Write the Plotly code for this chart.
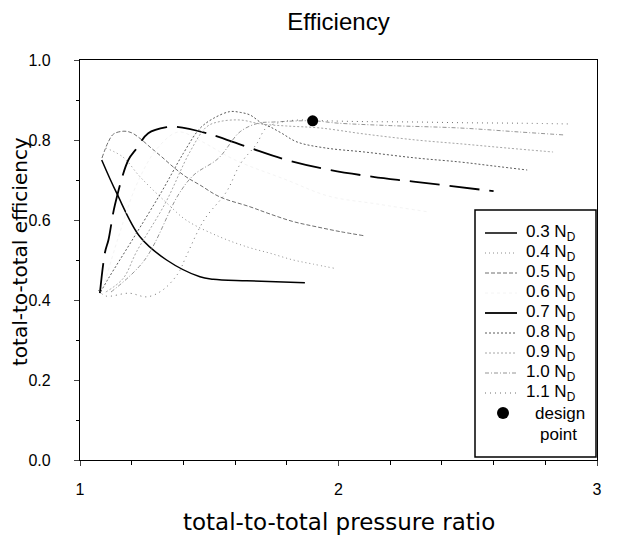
import plotly.graph_objects as go

# ---- data ----
x_03 = [1.084, 1.142, 1.232, 1.335, 1.464, 1.515, 1.645, 1.87]
y_03 = [0.75, 0.667, 0.558, 0.50, 0.458, 0.452, 0.448, 0.443]

x_04 = [1.10, 1.167, 1.226, 1.27, 1.34, 1.41, 1.54, 1.65, 1.735, 1.825, 1.90, 1.986]
y_04 = [0.78, 0.757, 0.7125, 0.683, 0.64, 0.60, 0.558, 0.532, 0.517, 0.50, 0.49, 0.479]

x_05 = [1.085, 1.11, 1.13, 1.17, 1.20, 1.232, 1.277, 1.316, 1.36, 1.41, 1.464, 1.54, 1.658, 1.735, 1.825, 1.915, 2.006, 2.096]
y_05 = [0.755, 0.796, 0.815, 0.822, 0.818, 0.804, 0.779, 0.758, 0.733, 0.708, 0.6875, 0.658, 0.633, 0.615, 0.596, 0.583, 0.571, 0.561]

x_06 = [1.09, 1.15, 1.22, 1.30, 1.38, 1.46, 1.60, 1.80, 1.96, 2.15, 2.35]
y_06 = [0.43, 0.56, 0.69, 0.78, 0.82, 0.80, 0.75, 0.70, 0.66, 0.64, 0.62]

x_07 = [1.077, 1.097, 1.11, 1.135, 1.187, 1.219, 1.264, 1.335, 1.374, 1.49, 1.645, 1.80, 1.967, 2.134, 2.29, 2.60]
y_07 = [0.417, 0.52, 0.55, 0.6375, 0.75, 0.779, 0.817, 0.832, 0.833, 0.817, 0.783, 0.75, 0.725, 0.708, 0.696, 0.672]

x_08 = [1.08, 1.11, 1.206, 1.316, 1.40, 1.464, 1.516, 1.58, 1.62, 1.658, 1.703, 1.735, 1.78, 1.84, 1.95, 2.10, 2.30, 2.47, 2.60, 2.73]
y_08 = [0.42, 0.454, 0.554, 0.671, 0.767, 0.829, 0.854, 0.871, 0.869, 0.8625, 0.842, 0.833, 0.817, 0.795, 0.78, 0.77, 0.755, 0.745, 0.735, 0.725]

x_09 = [1.10, 1.167, 1.219, 1.33, 1.425, 1.49, 1.54, 1.62, 1.70, 1.80, 1.93, 2.10, 2.30, 2.48, 2.65, 2.83]
y_09 = [0.42, 0.454, 0.521, 0.642, 0.77, 0.833, 0.846, 0.85, 0.84, 0.835, 0.83, 0.815, 0.80, 0.79, 0.78, 0.77]

x_10 = [1.12, 1.25, 1.38, 1.44, 1.535, 1.62, 1.69, 1.75, 1.90, 2.00, 2.20, 2.47, 2.70, 2.876]
y_10 = [0.42, 0.50, 0.6625, 0.7125, 0.754, 0.821, 0.842, 0.845, 0.848, 0.842, 0.836, 0.83, 0.82, 0.8125]

x_11 = [1.07, 1.10, 1.19, 1.26, 1.32, 1.38, 1.41, 1.48, 1.567, 1.62, 1.683, 1.72, 1.78, 1.85, 1.95, 2.10, 2.30, 2.50, 2.70, 2.90]
y_11 = [0.425, 0.41, 0.417, 0.408, 0.425, 0.467, 0.508, 0.60, 0.671, 0.74, 0.79, 0.83, 0.845, 0.85, 0.848, 0.846, 0.845, 0.843, 0.842, 0.840]

design_x = [1.90]
design_y = [0.848]

speed_labels = ["0.3", "0.4", "0.5", "0.6", "0.7", "0.8", "0.9", "1.0", "1.1"]
x_tickvals = [1, 2, 3]
x_ticktext = ["1", "2", "3"]
y_tickvals = [0.0, 0.2, 0.4, 0.6, 0.8, 1.0]

FONT = "Liberation Sans, Arial, sans-serif"
TITLE_FONT = "DejaVu Sans, Liberation Sans, sans-serif"

# ---- styles ----
styles = [
    dict(color="black", width=1.5, dash="solid"),
    dict(color="#8c8c8c", width=1.0, dash="1px,3px"),
    dict(color="#6e6e6e", width=1.0, dash="4px,2px"),
    dict(color="#f4f4f4", width=1.0, dash="dot"),
    dict(color="black", width=1.8, dash="30px,10px"),
    dict(color="#5a5a5a", width=1.0, dash="2px,2px"),
    dict(color="#a6a6a6", width=1.0, dash="2px,2px"),
    dict(color="#949494", width=1.0, dash="4px,2px,1px,2px"),
    dict(color="#6e6e6e", width=1.0, dash="1px,4px"),
]
xs_all = [x_03, x_04, x_05, x_06, x_07, x_08, x_09, x_10, x_11]
ys_all = [y_03, y_04, y_05, y_06, y_07, y_08, y_09, y_10, y_11]

fig = go.Figure()
for lab, xs, ys, ln in zip(speed_labels, xs_all, ys_all, styles):
    fig.add_trace(go.Scatter(x=xs, y=ys, mode="lines", name=lab + " N<sub>D</sub>",
                             line=dict(shape="spline", **ln), showlegend=False))

fig.add_trace(go.Scatter(x=design_x, y=design_y, mode="markers", name="design point",
                         marker=dict(color="black", size=11), showlegend=False))

# ---- geometry: the page body adds an 8px offset, so the figure is 8px smaller ----
W, H = 609, 532
L, T = 72, 52           # plot area at screen x 80..597, y 60..460
PW, PH = 517, 400
R, B = W - L - PW, H - T - PH
SX0, SY1 = 80, 460      # screen coords of plot-area left / bottom


def sx(x):
    return (x - SX0) / PW


def sy(y):
    return (SY1 - y) / PH


shapes = []
annotations = []

# legend box (screen coordinates)
shapes.append(dict(type="rect", xref="paper", yref="paper", x0=sx(475), x1=sx(596), y0=sy(457), y1=sy(210),
                   line=dict(color="black", width=1.5), fillcolor="white", layer="above"))
row_y = [233, 253, 273, 293, 313, 333, 353, 373, 393]
for lab, ln, ry in zip(speed_labels, styles, row_y):
    shapes.append(dict(type="line", xref="paper", yref="paper", x0=sx(485), x1=sx(517), y0=sy(ry), y1=sy(ry),
                       line=dict(color=ln["color"], width=ln["width"],
                                 dash="solid" if ln["dash"].startswith("30") else ln["dash"]),
                       layer="above"))
    annotations.append(dict(text=lab + " N<sub>D</sub>", xref="paper", yref="paper", x=sx(524), y=sy(ry),
                            xanchor="left", yanchor="middle", showarrow=False,
                            font=dict(family=FONT, size=17, color="black")))
shapes.append(dict(type="circle", xref="paper", yref="paper", x0=sx(497), x1=sx(509), y0=sy(419), y1=sy(407),
                   fillcolor="black", line=dict(color="black", width=0), layer="above"))
annotations.append(dict(text="design", xref="paper", yref="paper", x=sx(560), y=sy(413), xanchor="center",
                        yanchor="middle", showarrow=False, font=dict(family=FONT, size=17, color="black")))
annotations.append(dict(text="point", xref="paper", yref="paper", x=sx(558), y=sy(434), xanchor="center",
                        yanchor="middle", showarrow=False, font=dict(family=FONT, size=17, color="black")))

# axis titles
annotations.append(dict(text="total-to-total pressure ratio", xref="paper", yref="paper", x=0.5, y=sy(522),
                        xanchor="center", yanchor="middle", showarrow=False,
                        font=dict(family=TITLE_FONT, size=23, color="black")))
annotations.append(dict(text="total-to-total efficiency", xref="paper", yref="paper", x=sx(20), y=sy(252),
                        xanchor="center", yanchor="middle", showarrow=False, textangle=-90,
                        font=dict(family=TITLE_FONT, size=20, color="black")))

fig.update_layout(
    width=W, height=H,
    margin=dict(l=L, r=R, t=T, b=B),
    paper_bgcolor="white", plot_bgcolor="white",
    font=dict(family=FONT, size=16, color="black"),
    title=dict(text="Efficiency", x=0.5, xanchor="center", xref="paper", y=1 - 14 / H, yanchor="middle",
               font=dict(family=FONT, size=24, color="black")),
    showlegend=False,
    shapes=shapes,
    annotations=annotations,
    xaxis=dict(range=[1, 3], tickvals=x_tickvals, ticktext=x_ticktext, ticks="outside", ticklen=5,
               ticklabelstandoff=10, tickfont=dict(size=16),
               showline=True, linecolor="black", linewidth=1.2, mirror=True, showgrid=False, zeroline=False,
               minor=dict(dtick=0.2, ticks="outside", ticklen=4, tickcolor="black")),
    yaxis=dict(range=[0, 1], tickvals=y_tickvals, tickformat=".1f", ticks="outside", ticklen=5,
               ticklabelstandoff=20, tickfont=dict(size=16),
               showline=True, linecolor="black", linewidth=1.2, mirror=True, showgrid=False, zeroline=False,
               minor=dict(dtick=0.1, ticks="outside", ticklen=3, tickcolor="black")),
)

fig.write_html("out.html")
